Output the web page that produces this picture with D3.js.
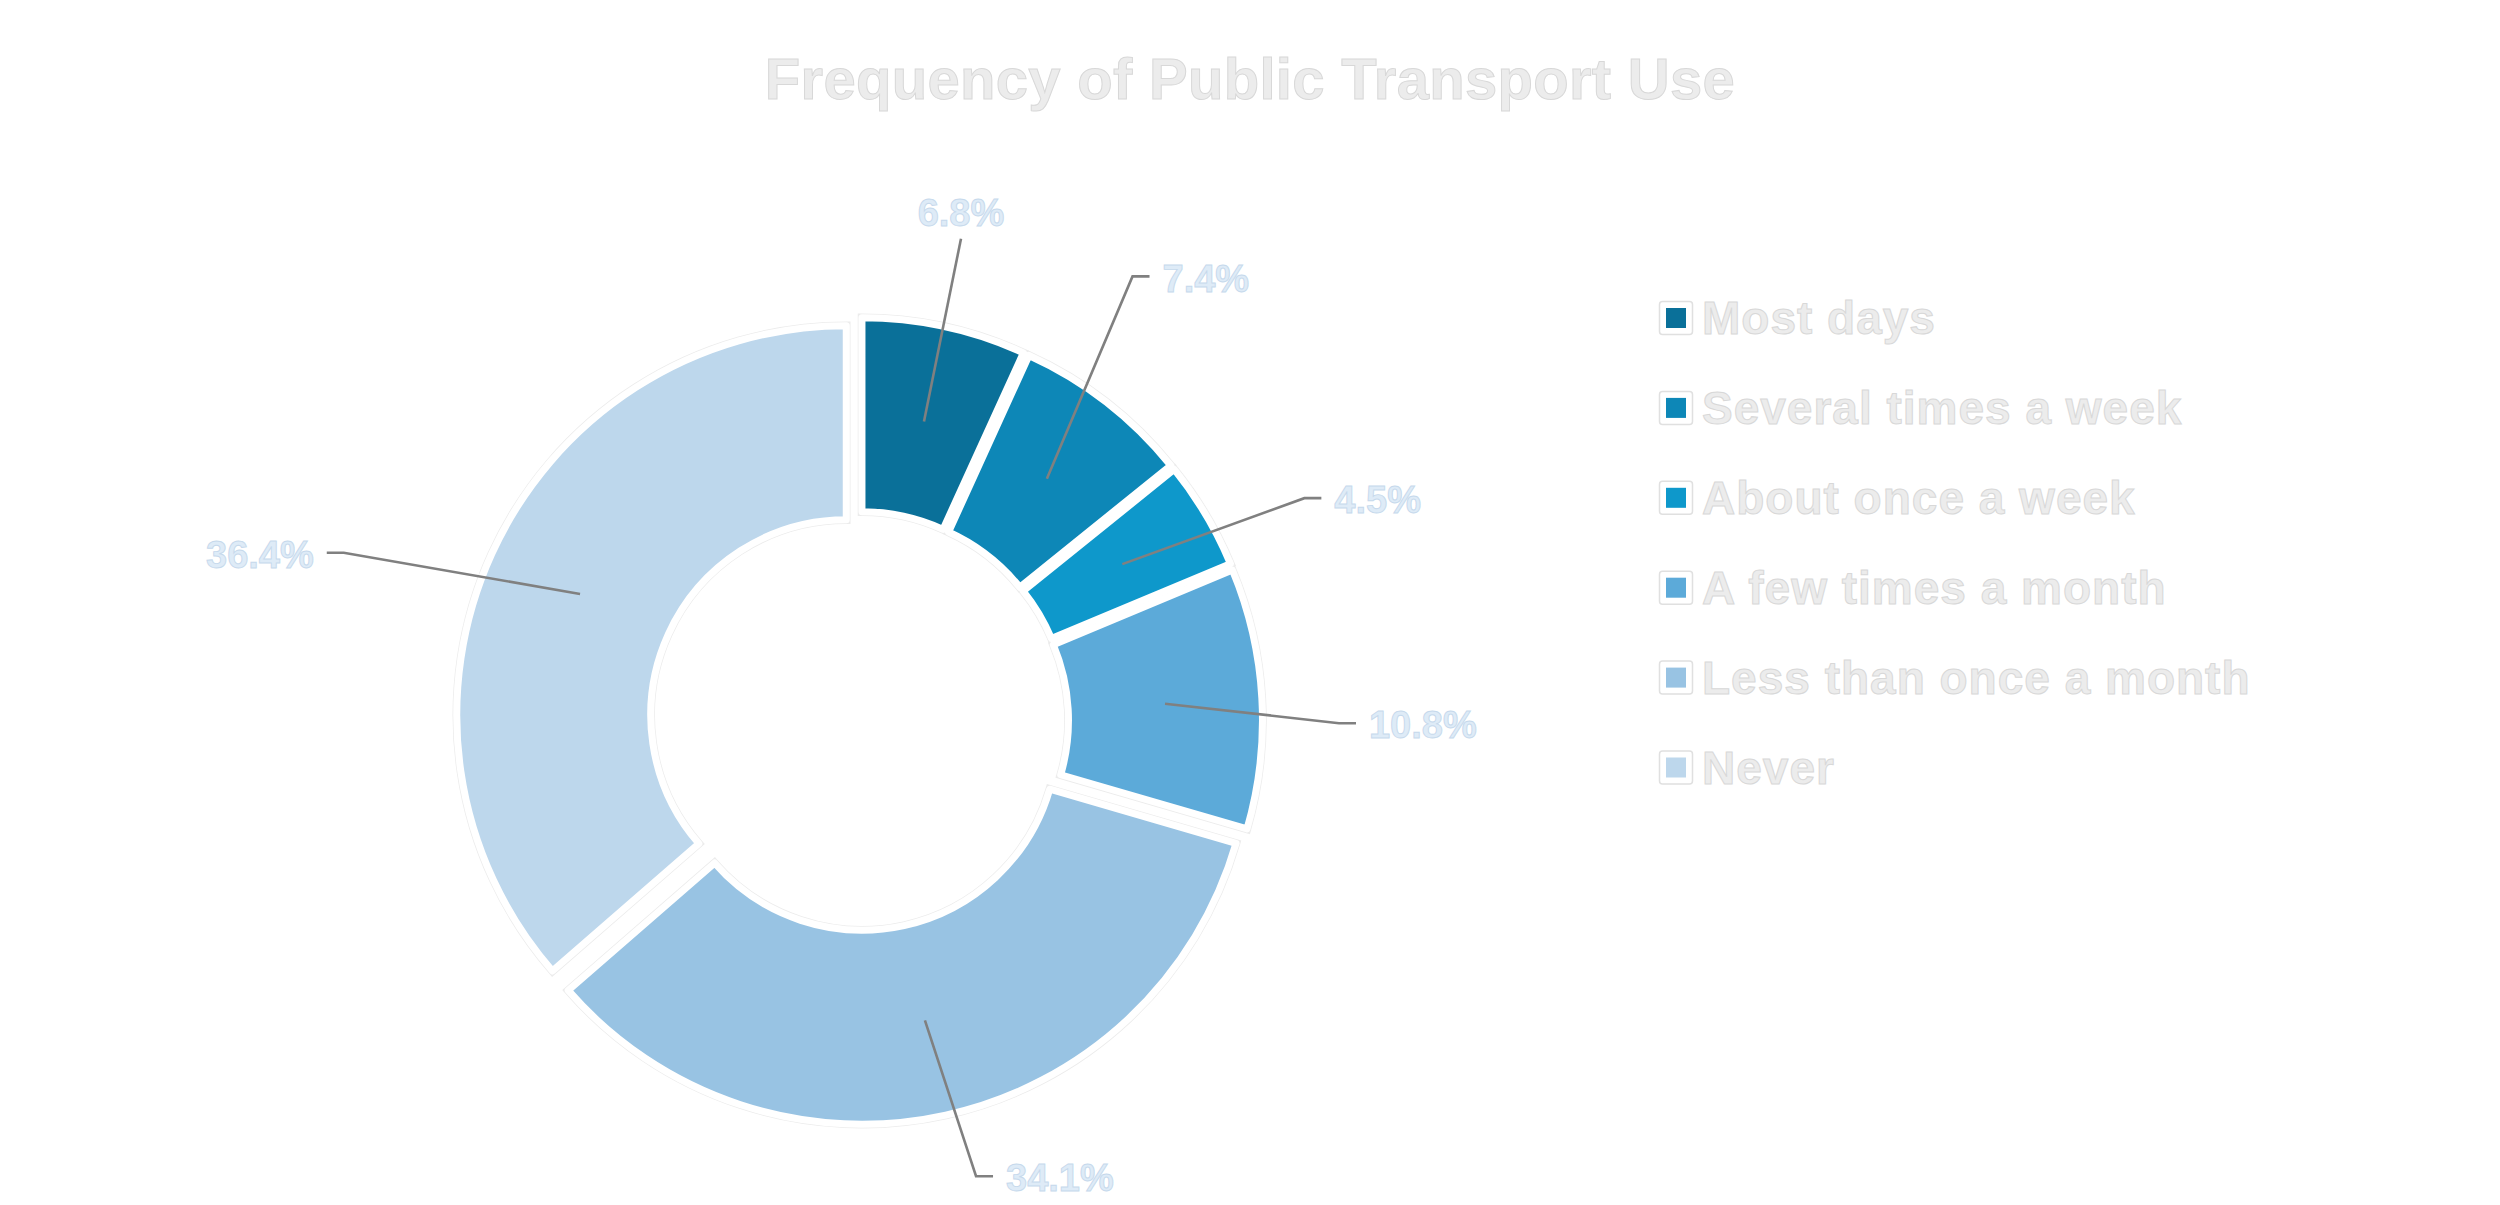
<!DOCTYPE html>
<html>
<head>
<meta charset="utf-8">
<script src="https://cdn.jsdelivr.net/npm/d3@7"></script>
<style>
  body { margin: 0; background: #ffffff; }
  text { font-family: "Liberation Sans", Arial, sans-serif; font-weight: bold; }
</style>
</head>
<body>
<div id="chart"></div>
<script>
// data
var categories = ["Most days", "Several times a week", "About once a week", "A few times a month", "Less than once a month", "Never"];
var shares = [6.8, 7.4, 4.5, 10.8, 34.1, 36.4];
var shareLabels = ["6.8%", "7.4%", "4.5%", "10.8%", "34.1%", "36.4%"];
var colors = ["#0A7099", "#0D87B7", "#0E98CB", "#5CAAD9", "#98C3E3", "#BDD7EC"];

// label placement (hand-moved labels, as in the original)
var labelRadius = [493, 522, 498, 480, 470, 542];
var labelAngleShift = [-0.3, -6.2, 4.2, 3.5, -2.0, -6.4];

var width = 2500,
    height = 1205,
    cx = 859,
    cy = 721,
    border = 3.5,
    explode = 14;

var svg = d3.select("#chart").append("svg")
    .attr("width", width)
    .attr("height", height);

svg.append("text")
    .attr("x", 1250)
    .attr("y", 99)
    .attr("text-anchor", "middle")
    .style("font-size", "58px")
    .style("letter-spacing", "0.3px")
    .style("fill", "#ececec")
    .style("stroke", "#d8d8d8")
    .style("stroke-width", 1)
    .text("Frequency of Public Transport Use");

var pie = d3.pie()
    .sort(null)
    .value(function(d) { return d; });

var arc = d3.arc()
    .outerRadius(386 + border)
    .innerRadius(199 - border);

var slices = pie(shares);

var offset = function(d, r) {
    var a = (d.startAngle + d.endAngle) / 2;
    return [r * Math.sin(a), -r * Math.cos(a)];
};

var g = svg.append("g")
    .attr("transform", "translate(" + cx + "," + cy + ")");

// faint outline under the white borders
g.selectAll(".halo").data(slices).enter().append("path")
    .attr("class", "halo")
    .attr("d", arc)
    .attr("transform", function(d) { return "translate(" + offset(d, explode) + ")"; })
    .style("fill", "none")
    .style("stroke", "#ececec")
    .style("stroke-width", border * 2 + 1.5);

g.selectAll(".arc").data(slices).enter().append("path")
    .attr("class", "arc")
    .attr("d", arc)
    .attr("transform", function(d) { return "translate(" + offset(d, explode) + ")"; })
    .style("fill", function(d, i) { return colors[i]; })
    .style("stroke", "#ffffff")
    .style("stroke-width", border * 2)
    .style("stroke-linejoin", "round");

// leader lines and labels
slices.forEach(function(d, i) {
    var c = arc.centroid(d);
    var ex = offset(d, explode);
    var start = [c[0] + ex[0], c[1] + ex[1]];
    var a = (d.startAngle + d.endAngle) / 2 + labelAngleShift[i] * Math.PI / 180;
    var elbow = [labelRadius[i] * Math.sin(a), -labelRadius[i] * Math.cos(a)];
    var top = Math.cos(a) > 0.97;
    var side = Math.sin(a) >= 0 ? 1 : -1;
    var pts = [start, elbow];
    if (!top) pts.push([elbow[0] + side * 17, elbow[1]]);

    g.append("path")
        .attr("d", d3.line()(pts))
        .style("fill", "none")
        .style("stroke", "#808080")
        .style("stroke-width", 2.6);

    var t = g.append("text")
        .style("font-size", "38px")
        .style("fill", "#deebf7")
        .style("stroke", "#c6d9ec")
        .style("stroke-width", 0.9)
        .text(shareLabels[i]);

    if (top) {
        t.attr("x", elbow[0]).attr("y", elbow[1] - 13).attr("text-anchor", "middle");
    } else {
        t.attr("x", elbow[0] + side * 30)
            .attr("y", elbow[1] + 2)
            .attr("dy", "0.35em")
            .attr("text-anchor", side > 0 ? "start" : "end");
    }
});

// legend
var legend = svg.append("g")
    .attr("transform", "translate(1676,318)");

var row = legend.selectAll(".row").data(categories).enter().append("g")
    .attr("class", "row")
    .attr("transform", function(d, i) { return "translate(0," + (i * 89.9) + ")"; });

row.append("rect")
    .attr("x", -16.5).attr("y", -16.5)
    .attr("width", 33).attr("height", 33)
    .attr("rx", 3)
    .style("fill", "#ffffff")
    .style("stroke", "#e0e0e0")
    .style("stroke-width", 1.5);

row.append("rect")
    .attr("x", -10).attr("y", -10)
    .attr("width", 20).attr("height", 20)
    .style("fill", function(d, i) { return colors[i]; });

row.append("text")
    .attr("x", 26)
    .attr("y", 16)
    .style("font-size", "46px")
    .style("letter-spacing", "1px")
    .style("fill", "#ececec")
    .style("stroke", "#d8d8d8")
    .style("stroke-width", 1)
    .text(function(d) { return d; });
</script>
</body>
</html>
